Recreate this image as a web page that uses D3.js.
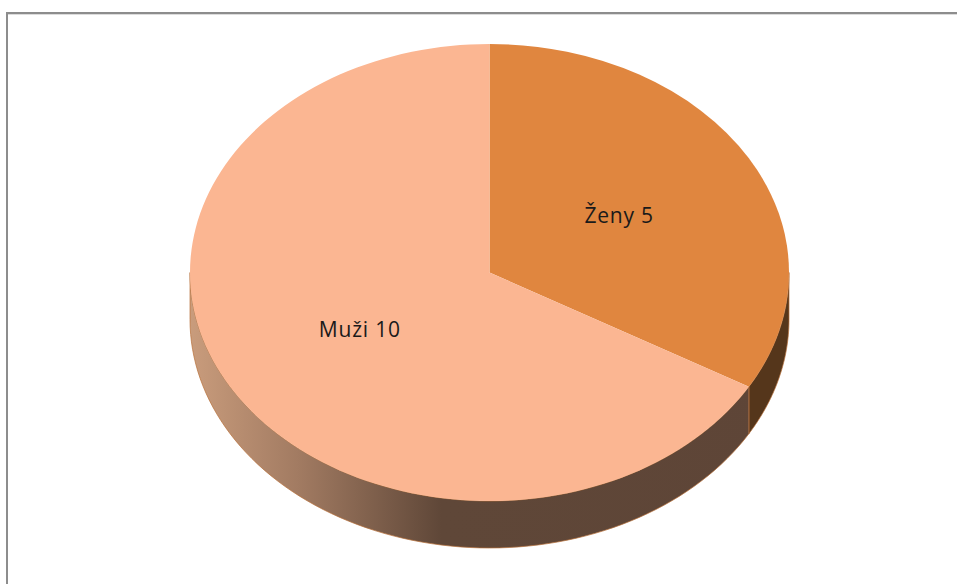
<!DOCTYPE html>
<html>
<head>
<meta charset="utf-8">
<script src="https://cdn.jsdelivr.net/npm/d3@7"></script>
<style>
  body { margin: 0; background: #fff; }
  svg { display: block; }
</style>
</head>
<body>
<div id="vis"></div>
<script>
// data, clockwise from 12 o'clock
var labels = ["Ženy", "Muži"];
var values = [5, 10];
var topColors = ["#E0863F", "#FBB692"];

var width = 957, height = 584;
var cx = 489.5, cy = 272.5, rx = 299.5, ry = 228.5, depth = 47;

var svg = d3.select("#vis").append("svg")
    .attr("width", width)
    .attr("height", height);

// chart frame (clipped on right/bottom like the screenshot)
svg.append("rect")
    .attr("x", 7).attr("y", 13)
    .attr("width", 1000).attr("height", 700)
    .attr("fill", "none")
    .attr("stroke", "#8d8d8d")
    .attr("stroke-width", 2);
svg.append("line")
    .attr("x1", 8).attr("x2", width).attr("y1", 14.5).attr("y2", 14.5)
    .attr("stroke", "#dcdcdc").attr("stroke-width", 1);

var defs = svg.append("defs");
var g1 = defs.append("linearGradient").attr("id", "sideMuzi")
    .attr("gradientUnits", "userSpaceOnUse")
    .attr("x1", cx - rx).attr("x2", cx + rx).attr("y1", 0).attr("y2", 0);
g1.append("stop").attr("offset", "0").attr("stop-color", "#C99C7C");
g1.append("stop").attr("offset", "0.18").attr("stop-color", "#A27B62");
g1.append("stop").attr("offset", "0.42").attr("stop-color", "#5F4738");
g1.append("stop").attr("offset", "1").attr("stop-color", "#5E4537");

var sideColors = ["#55361B", "url(#sideMuzi)"];

var pie = d3.pie().sort(null).value(function(d) { return d; });
var arcs = pie(values);

// ellipse point for angle a (clockwise from top)
function px(a) { return cx + rx * Math.sin(a); }
function py(a) { return cy - ry * Math.cos(a); }

var line = d3.line();

function sidePath(a0, a1) {
  var pts = [], n = 80, i, a;
  for (i = 0; i <= n; i++) {
    a = a0 + (a1 - a0) * i / n;
    pts.push([px(a), py(a)]);
  }
  for (i = n; i >= 0; i--) {
    a = a0 + (a1 - a0) * i / n;
    pts.push([px(a), py(a) + depth]);
  }
  return line(pts) + "Z";
}

// side walls: only front half (from 3 o'clock to 9 o'clock) is visible
var visA0 = Math.PI / 2, visA1 = Math.PI * 1.5;
arcs.forEach(function(d, i) {
  var a0 = Math.max(d.startAngle, visA0), a1 = Math.min(d.endAngle, visA1);
  if (a1 <= a0) return;
  svg.append("path")
      .attr("d", sidePath(a0, a1))
      .attr("fill", sideColors[i])
      .attr("stroke", "#B8703A")
      .attr("stroke-width", 0.7);
});

// top faces
var arc = d3.arc().innerRadius(0).outerRadius(rx);
svg.append("g")
    .attr("transform", "translate(" + cx + "," + cy + ") scale(1," + (ry / rx) + ")")
  .selectAll("path")
  .data(arcs)
  .enter().append("path")
    .attr("d", arc)
    .attr("fill", function(d, i) { return topColors[i]; });

// labels
svg.selectAll(".lbl")
  .data(arcs)
  .enter().append("text")
    .attr("class", "lbl")
    .attr("x", function(d) { var a = (d.startAngle + d.endAngle) / 2; return cx + 0.5 * rx * Math.sin(a); })
    .attr("y", function(d) { var a = (d.startAngle + d.endAngle) / 2; return cy - 0.5 * ry * Math.cos(a); })
    .attr("text-anchor", "middle")
    .attr("dy", "0.37em")
    .style("font-family", "'Open Sans', sans-serif")
    .style("font-size", "21px")
    .style("letter-spacing", "0.8px")
    .style("fill", "#1a1a1a")
    .text(function(d, i) { return labels[i] + " " + values[i]; });
</script>
</body>
</html>
